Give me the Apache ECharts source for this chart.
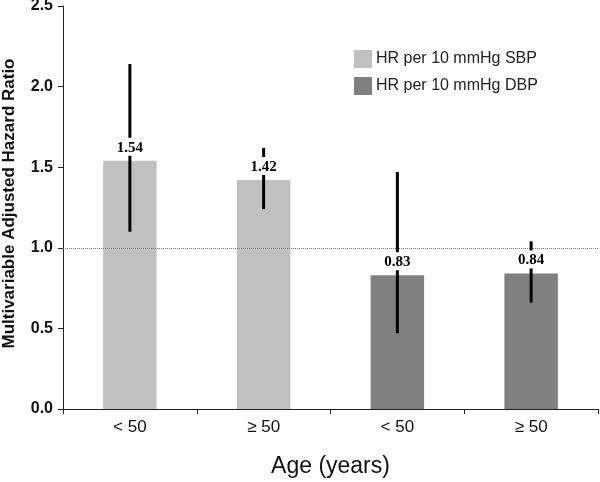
<!DOCTYPE html>
<html><head><meta charset="utf-8">
<script src="https://cdn.jsdelivr.net/npm/echarts@6/dist/echarts.min.js"></script>
<style>html,body{margin:0;padding:0;background:#fff}#c{width:600px;height:482px}</style>
</head><body><div id="c"></div>
<script>
const categories = ['< 50', '≥ 50', '< 50', '≥ 50'];
const sbpValues = [1.54, 1.42, null, null];
const dbpValues = [null, null, 0.83, 0.84];
const ciLow = [1.10, 1.24, 0.47, 0.66];
const ciHigh = [2.14, 1.62, 1.47, 1.04];
const hrValues = [1.54, 1.42, 0.83, 0.84];
const yTicks = [0, 0.5, 1.0, 1.5, 2.0, 2.5];

const errData = categories.map((c, i) => [i, hrValues[i], ciLow[i], ciHigh[i]]);

const chart = echarts.init(document.getElementById('c'));
chart.setOption({
  animation: false,
  backgroundColor: '#fff',
  grid: { left: 63, right: 2, top: 6, bottom: 73, containLabel: false, outerBoundsMode: 'none' },
  legend: {
    orient: 'vertical', left: 349, top: 45, itemWidth: 18, itemHeight: 18, itemGap: 9,
    icon: 'rect',
    textStyle: { fontFamily: 'Liberation Sans', fontSize: 16, color: '#222', padding: [0, 0, 0, -1] },
    data: ['HR per 10 mmHg SBP', 'HR per 10 mmHg DBP']
  },
  xAxis: {
    type: 'category', data: categories,
    name: 'Age (years)', nameLocation: 'middle', nameGap: 46,
    nameTextStyle: { fontFamily: 'Liberation Sans', fontSize: 23, color: '#111' },
    axisLine: { lineStyle: { color: '#222', width: 1 } },
    axisTick: { show: true, alignWithLabel: false, length: 5, lineStyle: { color: '#222' } },
    axisLabel: { fontFamily: 'Liberation Sans', fontSize: 17, color: '#111', margin: 10 }
  },
  yAxis: {
    type: 'value', min: 0, max: 2.5, interval: 0.5,
    name: 'Multivariable Adjusted Hazard Ratio', nameLocation: 'middle', nameGap: 45,
    nameTextStyle: { fontFamily: 'Liberation Sans', fontSize: 17, fontWeight: 'bold', color: '#111', padding: [0, 0, 0, 8] },
    axisLine: { show: true, lineStyle: { color: '#222', width: 1 } },
    axisTick: { show: true, inside: false, length: 5, lineStyle: { color: '#222' } },
    splitLine: { show: false },
    axisLabel: {
      fontFamily: 'Liberation Sans', fontSize: 16, fontWeight: 'bold', color: '#111', margin: 10,
      formatter: v => yTicks.indexOf(v) >= 0 ? v.toFixed(1) : ''
    }
  },
  series: [
    {
      name: 'HR per 10 mmHg SBP', type: 'bar', stack: 'hr', data: sbpValues,
      barWidth: '40%', itemStyle: { color: '#c0c0c0' },
      markLine: {
        silent: true, symbol: 'none', label: { show: false },
        lineStyle: { color: '#777', type: [1, 1], width: 1 },
        data: [{ yAxis: 1.0 }]
      }
    },
    {
      name: 'HR per 10 mmHg DBP', type: 'bar', stack: 'hr', data: dbpValues,
      barWidth: '40%', itemStyle: { color: '#808080' }
    },
    {
      type: 'custom', name: 'ci', data: errData, z: 10,
      renderItem: function (params, api) {
        const x = api.coord([api.value(0), api.value(1)])[0];
        const top = api.coord([api.value(0), api.value(1)])[1];
        const lo = api.coord([api.value(0), api.value(2)])[1];
        const hi = api.coord([api.value(0), api.value(3)])[1];
        return {
          type: 'group',
          children: [
            { type: 'line', shape: { x1: x, y1: lo, x2: x, y2: hi }, style: { stroke: '#000', lineWidth: 3 } },
            { type: 'rect', shape: { x: x - 17, y: top - 23, width: 34, height: 18 }, style: { fill: '#fff' } },
            { type: 'text', style: {
                x: x, y: top - 13, text: api.value(1).toFixed(2), textAlign: 'center', textVerticalAlign: 'middle',
                fontFamily: 'Liberation Serif', fontWeight: 'bold', fontSize: 15, fill: '#000'
            } }
          ]
        };
      }
    }
  ]
});
</script></body></html>
